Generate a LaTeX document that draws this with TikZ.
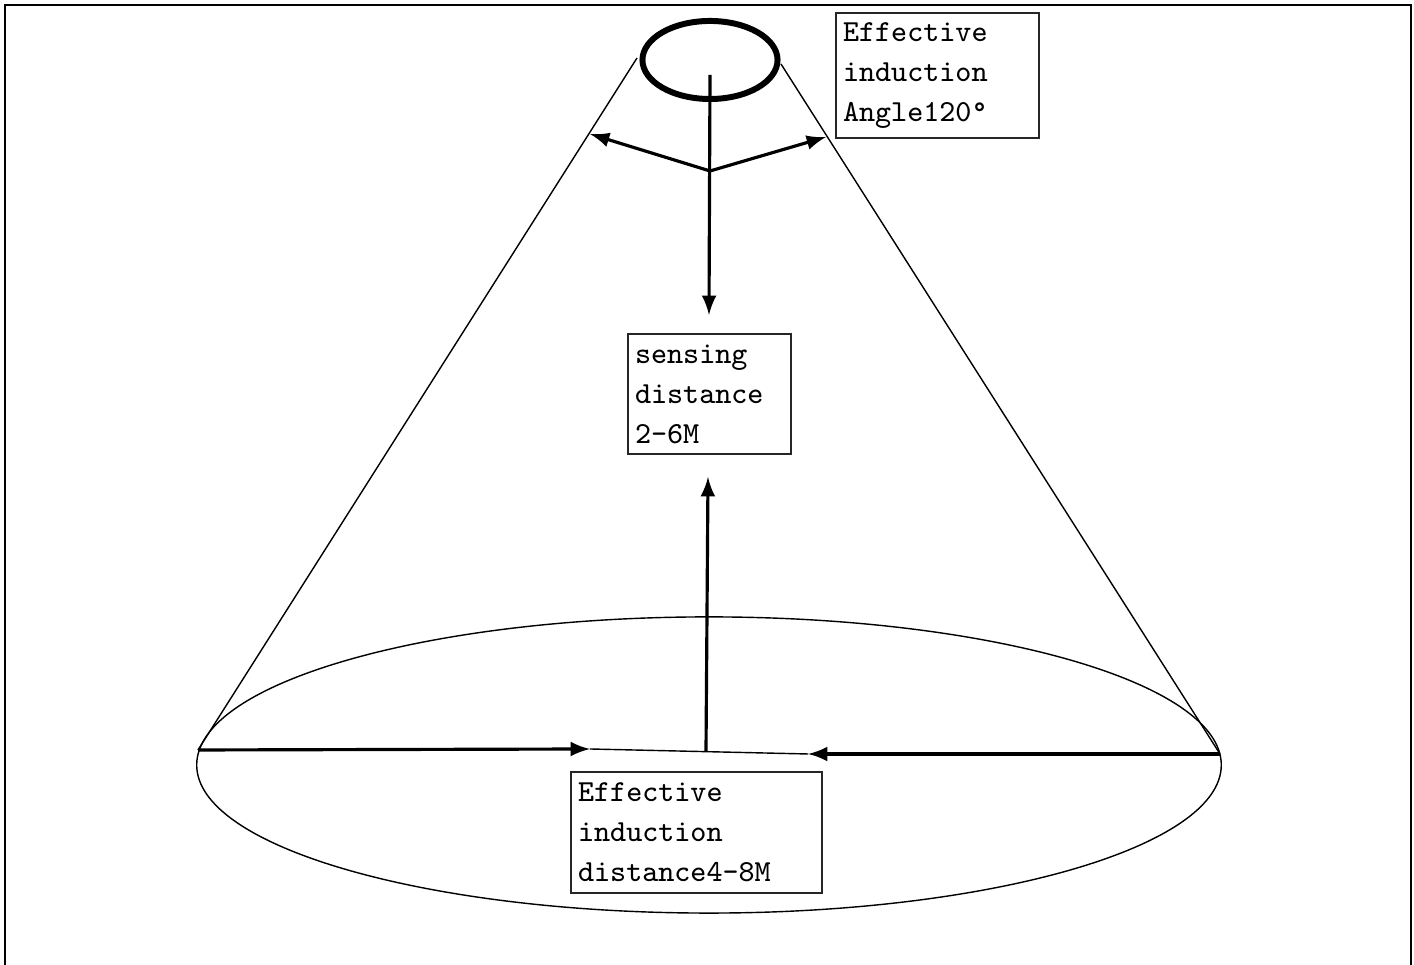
\documentclass[tikz,border=0pt]{standalone}
\usepackage{fontspec}
\newfontfamily\boxfont{Latin Modern Mono}
\usepackage{tikz}
\usetikzlibrary{positioning,shapes.geometric}
\tikzstyle{label box}=[draw=black!85,line width=0.6pt,anchor=north west,align=left,inner xsep=0.07cm,inner ysep=0pt,font=\boxfont\fontsize{8.7}{11.4}\selectfont]
\tikzstyle{beam}=[line width=0.9pt,->,>=latex]
\tikzstyle{cone}=[line width=0.4pt]

\begin{document}
\begin{tikzpicture}[x=0.01cm,y=-0.01cm]
            \useasboundingbox (0,0) rectangle (1414,965);
            % frame
            \draw[line width=0.7pt] (5,965) -- (5,5) -- (1411,5) -- (1411,965);
            % sensor and floor area
            \node[ellipse,draw,line width=1.7pt,inner sep=0pt,minimum width=1.35cm,minimum height=0.78cm] (sensor) at (710,60) {};
            \node[ellipse,draw,cone,inner sep=0pt,minimum width=10.24cm,minimum height=2.96cm] (floor) at (709,765) {};
            \coordinate (cone l top) at (637,58);
            \coordinate (cone r top) at (781,64);
            \coordinate (cone l foot) at (198,750);
            \coordinate (cone r foot) at (1220,754);
            \draw[cone] (cone l top) -- (cone l foot);
            \draw[cone] (cone r top) -- (cone r foot);
            % angle arrows
            \coordinate (src) at (710,75);
            \coordinate (hub) at (710,171);
            \coordinate (hub l) at (590,134);
            \coordinate (hub r) at (826,137);
            \coordinate (sense tip) at (709,315);
            \draw[beam] (src) -- (sense tip);
            \draw[beam] (hub) -- (hub l);
            \draw[beam] (hub) -- (hub r);
            % distance arrows
            \coordinate (mid l) at (590,749);
            \coordinate (mid r) at (808,754);
            \coordinate (mid) at (706,751);
            \coordinate (up tip) at (708,477);
            \draw[beam] (cone l foot) -- (mid l);
            \draw[cone] (mid l) -- (mid r);
            \draw[beam] (cone r foot) -- (mid r);
            \draw[beam] (mid) -- (up tip);
            % labels
            \node[label box,text width=1.89cm,minimum height=1.25cm] (angle) at (835,12) {Effective\\induction\\Angle120°};
            \node[label box,text width=1.49cm,minimum height=1.20cm] (sense) at (627,333) {sensing\\distance\\2-6M};
            \node[label box,text width=2.37cm,minimum height=1.21cm] (range) at (570,771) {Effective\\induction\\distance4-8M};
        \end{tikzpicture}
\end{document}
